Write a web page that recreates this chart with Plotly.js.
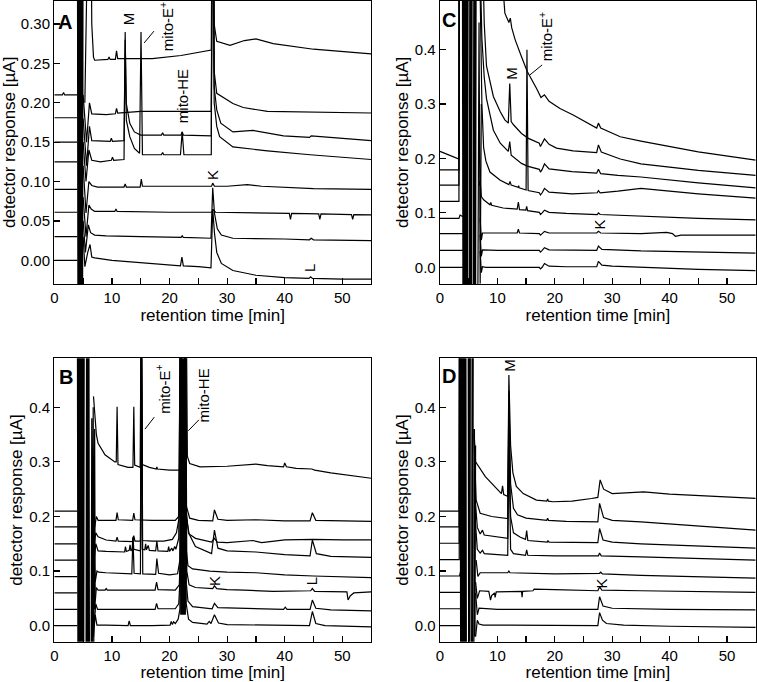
<!DOCTYPE html>
<html><head><meta charset="utf-8">
<script src="https://cdn.plot.ly/plotly-3.0.1.min.js"></script>
<style>html,body{margin:0;padding:0;background:#fff}#plot{width:757px;height:682px}</style>
</head><body><div id="plot"></div>
<script>
// ---------- Panel A (time [min], response [µA]) ----------
const A_front = [[4.0,0.5],[4.1,-0.1],[4.2,0.5],[4.3,-0.1],[4.4,0.5],[4.5,-0.1],[4.6,0.5],[4.7,-0.1],[4.8,0.5],[4.9,-0.1],[5.0,0.5]];
const A1 = [[0,0.0],[2,0.0],[4.0,0.0],null,[5.0,0.03],[5.3,-0.008],[5.8,0.01],[6.2,0.02],[6.5,0.004],[7,0.003],[10,0.0],[15,-0.003],[20,-0.006],[21.9,-0.007],[22.15,0.004],[22.4,-0.007],[25,-0.008],[27.2,-0.0095],[27.5,0.065],[27.8,0.035],[28.2,0.01],[29,-0.004],[31,-0.013],[35,-0.019],[40,-0.022],[44.2,-0.023],[44.5,-0.021],[44.8,-0.023],[50,-0.024],[55,-0.024]];
const A2 = [[0,0.03],[4.0,0.03],null,[5.0,0.05],[5.4,0.01],[5.9,0.045],[6.3,0.035],[7,0.032],[9,0.031],[15,0.030],[22,0.029],[22.2,0.031],[22.4,0.029],[27.2,0.028],[27.5,0.092],[27.8,0.06],[28.3,0.04],[29,0.032],[31,0.028],[40,0.027],[44.3,0.026],[44.6,0.028],[45,0.026],[55,0.025]];
const A3 = [[0,0.061],[4.0,0.061],null,[5.0,0.08],[5.5,0.03],[6.0,0.07],[6.4,0.065],[7,0.062],[10.5,0.062],[10.7,0.065],[10.9,0.062],[20,0.061],[27.3,0.061],[27.6,0.064],[28,0.061],[40.8,0.0595],[41,0.052],[41.2,0.0595],[45.9,0.059],[46.1,0.052],[46.3,0.059],[51.6,0.058],[51.8,0.052],[52,0.058],[55,0.0576]];
const A4 = [[0,0.09],[4.0,0.09],null,[5.0,0.12],[5.5,0.06],[6.0,0.10],[6.5,0.095],[7.5,0.093],[12.1,0.093],[12.3,0.097],[12.5,0.093],[14.9,0.093],[15.1,0.103],[15.3,0.094],[20,0.094],[27.3,0.094],[27.5,0.098],[27.8,0.094],[30,0.094],[33.5,0.096],[36,0.094],[45,0.091],[55,0.090]];
const A5 = [[0,0.125],[4.0,0.125],null,[5.0,0.15],[5.5,0.10],[6.0,0.14],[6.5,0.127],[8,0.125],[9.9,0.127],[10.1,0.131],[10.3,0.127],[12.1,0.128],[12.3,0.29],[12.5,0.178],[13.1,0.157],[13.9,0.142],[14.8,0.136],[15.05,0.29],[15.3,0.134],[18.6,0.134],[18.8,0.137],[19,0.134],[21.9,0.134],[22.2,0.163],[22.5,0.134],[27.25,0.134],[27.5,0.6],[27.75,0.2],[28.2,0.17],[28.7,0.157],[31,0.144],[37,0.139],[44.4,0.134],[55,0.128]];
const A6 = [[0,0.15],[4.0,0.15],null,[5.0,0.18],[5.6,0.12],[6.1,0.17],[6.5,0.152],[9.7,0.151],[9.9,0.155],[10.1,0.151],[12.1,0.152],[12.3,0.28],[12.5,0.199],[13.1,0.174],[13.9,0.163],[15,0.159],[18.6,0.159],[18.8,0.162],[19,0.159],[22.0,0.159],[22.2,0.163],[22.4,0.159],[27.25,0.158],[27.5,0.6],[27.75,0.22],[28.2,0.191],[28.9,0.174],[31,0.163],[34.5,0.165],[39.8,0.158],[44.3,0.156],[44.6,0.158],[55,0.152]];
const A7 = [[0,0.181],[4.0,0.181],null,[5.0,0.21],[5.6,0.15],[6.1,0.2],[6.5,0.186],[9,0.185],[10.6,0.186],[10.8,0.193],[11,0.187],[15,0.189],[27.25,0.189],[27.5,0.6],[27.75,0.24],[28.2,0.212],[31,0.199],[32.8,0.194],[37,0.189],[55,0.187]];
const A8 = [[0,0.21],[1.4,0.21],[1.6,0.213],[1.8,0.21],[4.0,0.21],null,[5.3,0.2],[6.2,0.6],[6.5,0.3],[6.8,0.258],[7,0.254],[9.3,0.255],[9.5,0.258],[9.7,0.255],[10.6,0.255],[10.8,0.266],[11,0.256],[13,0.256],[17,0.256],[22,0.26],[27.25,0.267],[27.5,0.6],[27.75,0.3],[28.2,0.278],[30.5,0.273],[33,0.279],[35,0.281],[38,0.275],[45,0.268],[55,0.262]];

// ---------- Panel C ----------
const C_front = [[3.9,0.6],[4.0,-0.1],[4.1,0.6],[4.2,-0.1],[4.3,0.6],[4.4,-0.1],[4.5,0.6],[4.6,-0.1],[4.7,0.6],[4.8,-0.1],[4.9,0.6],null,[5.1,-0.1],[5.2,0.6],[5.3,-0.1],[5.4,0.6],[5.5,-0.1],[5.6,0.6],null,[5.8,-0.1],[5.9,0.6],[6.0,-0.1],[6.1,0.6],[6.2,-0.1],[6.3,0.6],null,[6.6,-0.05],[6.8,0.45],[7.0,-0.03],[7.2,0.3]];
const C1 = [[0,0.0],[4.0,0.0],null,[7.0,0.03],[7.2,-0.01],[7.4,0.001],[8,0.0],[12,0.0],[17.3,0.0],[17.5,-0.003],[17.8,0.0],[18.2,0.007],[19,0.002],[22,0.001],[27.3,0.001],[27.6,0.011],[28.2,0.004],[30,0.002],[35,0.0],[45,-0.004],[55,-0.006]];
const C2 = [[0,0.031],[4.0,0.031],null,[7.0,0.06],[7.2,0.02],[7.4,0.032],[10,0.031],[17.3,0.031],[17.5,0.028],[17.8,0.031],[18.2,0.036],[19,0.032],[27.3,0.031],[27.6,0.039],[28.2,0.033],[35,0.030],[45,0.028],[55,0.026]];
const C3 = [[0,0.062],[4.0,0.062],null,[7.0,0.09],[7.2,0.05],[7.4,0.063],[10,0.063],[13.45,0.063],[13.65,0.07],[13.85,0.063],[17.3,0.062],[17.5,0.059],[17.8,0.062],[18.2,0.066],[19,0.063],[27.3,0.063],[27.6,0.066],[28,0.063],[35,0.062],[39.5,0.064],[40.5,0.062],[41,0.057],[42,0.059],[55,0.059]];
const C4 = [[0,0.09],[3.3,0.09],[3.5,0.096],[3.8,0.094],[4.0,0.093],null,[6.8,0.15],[7.0,0.16],[7.2,0.13],[7.6,0.124],[8.7,0.115],[8.85,0.119],[9.0,0.114],[11,0.109],[13.45,0.107],[13.65,0.12],[13.85,0.106],[14.95,0.105],[15.1,0.112],[15.25,0.104],[17.3,0.101],[17.5,0.097],[17.8,0.1],[18.2,0.105],[19,0.101],[22,0.099],[27.4,0.097],[27.6,0.1],[27.9,0.097],[35,0.094],[45,0.09],[55,0.087]];
const C5 = [[0,0.121],[3.3,0.121],[3.35,0.6],null,[7.0,0.5],[7.3,0.3],[7.6,0.22],[8,0.195],[8.7,0.175],[10.5,0.16],[12.0,0.152],[12.2,0.158],[12.4,0.151],[13.6,0.147],[13.7,0.15],[13.8,0.146],[15.0,0.142],[15.15,0.40],[15.35,0.141],[17.3,0.137],[17.5,0.133],[17.8,0.137],[18.2,0.145],[19,0.138],[23,0.135],[27.4,0.137],[27.6,0.141],[27.9,0.137],[31,0.14],[35,0.145],[40,0.14],[45,0.135],[55,0.127]];
const C6 = [[0,0.151],[3.3,0.151],[3.35,0.6],null,[6.9,0.6],[7.3,0.42],[7.7,0.35],[8.1,0.31],[9.3,0.252],[10.5,0.228],[11.9,0.213],[12.15,0.231],[12.4,0.206],[14.2,0.191],[15.2,0.186],[17.3,0.18],[17.5,0.175],[17.8,0.18],[18.2,0.19],[19,0.181],[23,0.176],[27.3,0.173],[27.6,0.18],[28,0.172],[31,0.169],[35,0.166],[45,0.155],[55,0.146]];
const C7 = [[0,0.179],[3.3,0.179],[3.35,0.6],null,[7.4,0.6],[7.7,0.45],[8.1,0.37],[9.3,0.314],[10.5,0.286],[11.3,0.271],[11.9,0.265],[12.15,0.338],[12.4,0.268],[12.8,0.262],[14.2,0.246],[15.4,0.237],[17.3,0.228],[17.5,0.222],[17.8,0.228],[18.2,0.236],[19,0.226],[20.3,0.219],[23.2,0.214],[27.3,0.211],[27.6,0.225],[28.1,0.212],[31.4,0.199],[35,0.19],[45,0.178],[55,0.169]];
const C8 = [[0,0.213],[1.5,0.207],[3.3,0.199],[3.35,0.6],null,[10.4,0.6],[11.3,0.467],[12.0,0.45],[12.25,0.458],[12.5,0.44],[13.1,0.418],[14.2,0.387],[15.2,0.36],[16.8,0.329],[17.4,0.318],[17.6,0.312],[18.2,0.317],[19,0.305],[20.9,0.292],[23.2,0.28],[27.3,0.256],[27.6,0.265],[28.0,0.256],[31.4,0.24],[35,0.232],[40,0.222],[45,0.212],[55,0.197]];

// ---------- Panel B ----------
const B_front = [[4.0,0.6],[4.1,-0.1],[4.2,0.6],[4.3,-0.1],[4.4,0.6],[4.5,-0.1],[4.6,0.6],[4.7,-0.1],[4.8,0.6],[4.9,-0.1],[5.0,0.6],[5.1,-0.1],[5.2,0.6],null,[5.5,-0.1],[5.6,0.6],[5.7,-0.1],[5.8,0.6],[5.9,-0.1],[6.0,0.6],[6.1,-0.1],null,[6.4,-0.05],[6.5,0.38],[6.6,-0.05],[6.75,0.4],[6.85,-0.05],[7.0,0.36],[7.1,0.05]];
const B_he = [[21.85,0.6],[21.95,0.02],[22.05,0.6],[22.15,0.02],[22.25,0.6],[22.35,0.02],[22.45,0.6],[22.55,0.02],[22.65,0.6],[22.75,0.02],[22.85,0.6]];
const B1 = [[0,0.0],[4.0,0.0],null,[6.5,0.05],[6.8,-0.02],[7.1,0.02],[7.4,0.001],[9,0.001],[12.8,0.0],[13.0,0.009],[13.2,0.0],[17,0.0],[20.1,0.001],[20.3,0.008],[20.5,0.002],[20.7,0.007],[21.0,0.004],[21.5,0.012],[21.8,0.03],[22.0,0.6],[22.7,0.6],[22.9,0.04],[23.3,0.012],[24,0.006],[26.5,0.003],[26.9,0.008],[27.2,0.004],[27.8,0.02],[28.5,0.005],[30,0.002],[35,0.001],[40,0.0],[44.3,0.0],[44.8,0.026],[45.4,0.004],[47,0.0],[55,-0.002]];
const B2 = [[0,0.03],[4.0,0.03],null,[6.6,0.08],[6.9,0.0],[7.2,0.04],[7.5,0.03],[10,0.03],[17.5,0.03],[17.75,0.041],[18.0,0.031],[21,0.031],[21.6,0.04],[21.9,0.1],[22.1,0.6],[22.75,0.6],[22.9,0.08],[23.2,0.045],[24,0.035],[27.4,0.031],[27.8,0.041],[28.4,0.033],[35,0.031],[39.8,0.03],[40.1,0.034],[40.4,0.03],[44.4,0.03],[44.8,0.047],[45.4,0.032],[48,0.029],[55,0.027]];
const B3 = [[0,0.06],[4.0,0.06],null,[6.7,0.1],[7.0,0.03],[7.3,0.07],[7.6,0.065],[8.8,0.065],[9.0,0.068],[9.2,0.065],[13,0.065],[17.5,0.065],[17.75,0.08],[18.0,0.066],[21,0.065],[21.7,0.075],[21.95,0.15],[22.1,0.6],[22.8,0.6],[23.0,0.1],[23.4,0.075],[24.5,0.07],[27.5,0.068],[27.8,0.073],[28.2,0.068],[30,0.066],[33,0.065],[38,0.063],[44.5,0.064],[44.8,0.068],[45.2,0.063],[50.8,0.062],[51.0,0.047],[51.4,0.055],[52,0.06],[55,0.062]];
const B4 = [[0,0.09],[4.0,0.09],null,[6.8,0.15],[7.1,0.08],[7.4,0.1],[7.7,0.098],[9,0.097],[12,0.096],[13.45,0.095],[13.65,0.163],[13.85,0.096],[14.95,0.095],[15.15,0.6],[15.35,0.095],[17.6,0.094],[17.8,0.123],[18.1,0.096],[20,0.093],[21.4,0.095],[21.8,0.12],[22.0,0.6],[22.6,0.6],[22.8,0.15],[23.2,0.11],[24,0.104],[27,0.1],[30,0.098],[35,0.097],[40,0.093],[45,0.091],[50,0.089],[55,0.088]];
const B5 = [[0,0.12],[4.0,0.12],null,[6.6,0.2],[6.9,0.12],[7.2,0.15],[7.6,0.137],[9,0.136],[11,0.135],[12.2,0.135],[12.35,0.145],[12.5,0.136],[13.0,0.138],[13.15,0.148],[13.3,0.137],[13.5,0.14],[13.65,0.16],[13.8,0.14],[14.95,0.137],[15.1,0.6],[15.25,0.14],[15.7,0.139],[15.85,0.15],[16.0,0.139],[16.3,0.147],[16.5,0.138],[17.6,0.137],[17.8,0.155],[18.0,0.137],[19.7,0.136],[19.85,0.145],[20.0,0.136],[20.4,0.142],[20.6,0.137],[20.9,0.145],[21.1,0.14],[21.6,0.16],[21.9,0.6],[22.6,0.6],[22.8,0.22],[23.3,0.17],[24.5,0.145],[27.3,0.132],[27.8,0.175],[28.4,0.142],[30,0.137],[35,0.135],[40,0.13],[44.4,0.128],[44.8,0.157],[45.5,0.132],[48,0.127],[55,0.125]];
const B6 = [[0,0.15],[4.0,0.15],null,[6.6,0.22],[6.9,0.15],[7.2,0.17],[7.6,0.163],[9,0.157],[10.7,0.155],[10.9,0.162],[11.1,0.155],[13.6,0.154],[13.8,0.165],[14.0,0.155],[14.95,0.155],[15.12,0.6],[15.3,0.156],[17,0.155],[19,0.155],[20.5,0.158],[21.2,0.17],[21.7,0.2],[21.9,0.6],[22.7,0.6],[22.9,0.2],[23.4,0.168],[24.5,0.16],[27.3,0.153],[27.8,0.16],[28.3,0.153],[30,0.152],[34.5,0.156],[36,0.152],[40,0.157],[45,0.158],[50,0.157],[55,0.157]];
const B7 = [[0,0.181],[4.0,0.181],null,[6.7,0.28],[7.0,0.18],[7.3,0.2],[7.6,0.193],[10.7,0.193],[10.9,0.207],[11.1,0.194],[13.6,0.193],[13.8,0.206],[14.0,0.194],[17,0.193],[21,0.193],[21.6,0.2],[21.9,0.6],[22.7,0.6],[22.9,0.22],[23.5,0.197],[25,0.193],[27.5,0.192],[27.8,0.212],[28.4,0.195],[30,0.193],[35,0.194],[40,0.192],[44.4,0.192],[44.8,0.207],[45.4,0.193],[50,0.192],[55,0.191]];
const B8 = [[0,0.21],[4.0,0.21],null,[6.8,0.42],[7.0,0.395],[7.3,0.35],[7.6,0.334],[8.8,0.313],[10.5,0.30],[10.75,0.3],[10.9,0.401],[11.05,0.295],[12.8,0.29],[13.65,0.29],[13.8,0.401],[13.95,0.294],[14.9,0.29],[15.08,0.6],[15.3,0.295],[16.5,0.29],[17.7,0.287],[17.8,0.291],[17.9,0.287],[20,0.285],[21.8,0.285],[22.0,0.6],[22.9,0.6],[23.1,0.31],[23.5,0.297],[25.3,0.291],[30,0.292],[33,0.295],[35,0.296],[37,0.293],[39.8,0.291],[40.0,0.298],[40.3,0.291],[42,0.288],[44.7,0.287],[45.2,0.285],[48,0.28],[55,0.27]];

// ---------- Panel D ----------
const D_front = [[3.5,0.6],[3.6,-0.1],[3.7,0.6],[3.8,-0.1],[3.9,0.6],[4.0,-0.1],[4.1,0.6],[4.2,-0.1],[4.3,0.6],[4.4,-0.1],[4.5,0.6],[4.6,-0.1],null,[4.9,0.6],[5.0,-0.1],[5.1,0.6],[5.2,-0.1],[5.3,0.6],null,[5.5,-0.1],[5.6,0.6],[5.7,-0.1],[5.8,0.6],null,[5.9,-0.05],[6.0,0.36],[6.1,-0.02],[6.2,0.33]];
const D1 = [[0,0.0],[3.6,0.0],null,[6.2,-0.02],[6.5,0.01],[6.8,0.003],[7.5,0.001],[10,0.001],[20,0.001],[27.5,0.0],[27.8,0.024],[28.3,0.01],[29,0.004],[32,0.001],[40,-0.001],[55,-0.003]];
const D2 = [[0,0.031],[3.6,0.031],null,[6.2,0.06],[6.5,0.02],[6.8,0.032],[10,0.03],[20,0.03],[27.5,0.03],[27.8,0.053],[28.4,0.036],[30,0.032],[40,0.03],[55,0.029]];
const D3 = [[0,0.061],[3.6,0.061],null,[6.2,0.08],[6.5,0.05],[6.9,0.064],[8.5,0.063],[8.8,0.047],[9.0,0.055],[9.5,0.06],[9.6,0.052],[9.8,0.062],[14.2,0.063],[14.3,0.052],[14.4,0.063],[16.2,0.064],[16.4,0.067],[20,0.066],[27.5,0.064],[27.8,0.071],[28.2,0.065],[35,0.064],[45,0.062],[55,0.061]];
const D4 = [[0,0.091],[3.4,0.091],[3.6,0.10],[3.9,0.099],null,[6.3,0.12],[6.6,0.09],[7.0,0.097],[10,0.097],[11.8,0.097],[12.0,0.1],[12.2,0.097],[20,0.095],[27.8,0.096],[28,0.098],[28.3,0.095],[35,0.092],[45,0.089],[55,0.087]];
const D5 = [[0,0.121],[3.35,0.121],[3.4,0.6],null,[6.1,0.2],[6.5,0.14],[7.0,0.133],[7.4,0.138],[7.7,0.132],[10,0.13],[11.8,0.129],[12.0,0.34],[12.3,0.14],[12.8,0.132],[14.9,0.129],[15.1,0.139],[15.3,0.129],[20,0.128],[27.6,0.128],[27.8,0.133],[28.1,0.128],[35,0.126],[45,0.123],[55,0.12]];
const D6 = [[0,0.151],[3.35,0.151],[3.4,0.6],null,[6.0,0.25],[6.5,0.18],[7.0,0.168],[7.4,0.175],[7.7,0.166],[10,0.162],[11.8,0.16],[12.0,0.39],[12.3,0.2],[12.8,0.17],[14,0.162],[14.9,0.158],[15.1,0.174],[15.3,0.156],[18.7,0.153],[18.8,0.156],[19,0.153],[27.5,0.152],[27.8,0.178],[28.4,0.157],[30,0.153],[35,0.15],[45,0.146],[55,0.142]];
const D7 = [[0,0.181],[3.35,0.181],[3.4,0.6],null,[5.9,0.35],[6.3,0.23],[7,0.206],[9,0.2],[11.8,0.196],[12.0,0.43],[12.3,0.26],[12.8,0.215],[13.5,0.203],[15,0.197],[18.6,0.193],[18.75,0.197],[18.9,0.193],[22,0.191],[27.5,0.19],[27.8,0.224],[28.5,0.198],[30,0.193],[35,0.19],[45,0.182],[55,0.175]];
const D8 = [[0,0.21],[3.35,0.21],[3.4,0.6],null,[5.9,0.36],[6.2,0.30],[7.9,0.273],[9.5,0.255],[10.7,0.242],[10.9,0.256],[11.1,0.24],[11.8,0.237],[12.0,0.459],[12.3,0.33],[12.7,0.28],[13.3,0.255],[14.5,0.242],[16.8,0.230],[18.6,0.228],[18.75,0.232],[18.9,0.228],[19.7,0.227],[23,0.228],[26.4,0.233],[27.5,0.235],[27.9,0.267],[28.5,0.25],[30,0.242],[33,0.243],[35.5,0.245],[40,0.241],[45,0.238],[50,0.236],[55,0.233]];

// ---------- labels ----------
const xTitle = 'retention time [min]';
const yTitle = 'detector response [µA]';
const panelLetters = [['A','x','y',1.77,0.303],['C','x2','y2',1.65,0.454],['B','x3','y3',2.03,0.455],['D','x4','y4',1.57,0.457]];
const peakLabels = [
  ['M','x','y',12.8,0.306],['mito-E<sup>+</sup>','x','y',19.4,0.296],['mito-HE','x','y',22.25,0.209],['K','x','y',27.5,0.108],['L','x','y',44.2,-0.010],
  ['M','x2','y2',12.4,0.356],['mito-E<sup>+</sup>','x2','y2',18.4,0.424],['K','x2','y2',27.8,0.078],
  ['mito-E<sup>+</sup>','x3','y3',18.8,0.433],['mito-HE','x3','y3',25.9,0.4225],['K','x3','y3',27.9,0.082],['L','x3','y3',44.8,0.082],
  ['M','x4','y4',12.1,0.477],['K','x4','y4',28.1,0.078]
];
const leaders = [['x','y',15.6,0.276,17.3,0.291],['x2','y2',15.6,0.353,17.8,0.372],['x3','y3',15.74,0.360,17.36,0.382],['x3','y3',23.26,0.357,25.1,0.377]];

const F = 'Liberation Sans, Arial, Helvetica, sans-serif';
const panels = [
  {xa:'x', ya:'y', series:[A_front,A1,A2,A3,A4,A5,A6,A7,A8]},
  {xa:'x2', ya:'y2', series:[C_front,C1,C2,C3,C4,C5,C6,C7,C8]},
  {xa:'x3', ya:'y3', series:[B_front,B_he,B1,B2,B3,B4,B5,B6,B7,B8]},
  {xa:'x4', ya:'y4', series:[D_front,D1,D2,D3,D4,D5,D6,D7,D8]}
];
const traces = [];
panels.forEach(p => p.series.forEach(s => {
  traces.push({type:'scatter', mode:'lines', xaxis:p.xa, yaxis:p.ya,
    x: s.map(q => q ? q[0] : null), y: s.map(q => q ? q[1] : null),
    line:{color:'#000', width:1.2}, showlegend:false, hoverinfo:'skip'});
}));

function xAxis(domain, anchor){
  return {domain, anchor, range:[0,55], tick0:0, dtick:10, ticks:'inside', ticklen:6, tickwidth:1.2, tickcolor:'#000',
    minor:{dtick:5, ticks:'inside', ticklen:6, tickwidth:1.2, tickcolor:'#000'},
    showline:true, linecolor:'#000', linewidth:1.3, mirror:true, showgrid:false, zeroline:false,
    tickfont:{family:F, size:15, color:'#000'},
    title:{text:xTitle, font:{family:F, size:17, color:'#000'}, standoff:2}, automargin:false};
}
function yAxis(domain, anchor, range, dtick, fmt){
  return {domain, anchor, range, tick0:0, dtick, tickformat:fmt, ticks:'inside', ticklen:6, tickwidth:1.2, tickcolor:'#000',
    showline:true, linecolor:'#000', linewidth:1.3, mirror:true, showgrid:false, zeroline:false,
    tickfont:{family:F, size:15, color:'#000'},
    title:{text:yTitle, font:{family:F, size:17, color:'#000'}, standoff:2}, automargin:false};
}
const xL = [0.07177, 0.49023], xR = [0.58124, 0.99828];
const yT = [0.58358, 0.99897], yB = [0.05909, 0.47463];

const annotations = [];
panelLetters.forEach(a => annotations.push({text:'<b>'+a[0]+'</b>', xref:a[1], yref:a[2], x:a[3], y:a[4], showarrow:false,
  xanchor:'center', yanchor:'middle', font:{family:F, size:20, color:'#000'}}));
peakLabels.forEach(a => annotations.push({text:a[0], xref:a[1], yref:a[2], x:a[3], y:a[4], showarrow:false, textangle:-90,
  xanchor:'center', yanchor:'middle', font:{family:F, size:15, color:'#000'}}));
const shapes = leaders.map(l => ({type:'line', xref:l[0], yref:l[1], x0:l[2], y0:l[3], x1:l[4], y1:l[5], line:{color:'#000', width:1}}));

const layout = {
  width:757, height:682, margin:{l:0,r:0,t:0,b:0}, paper_bgcolor:'#fff', plot_bgcolor:'#fff', showlegend:false,
  xaxis: xAxis(xL,'y'), yaxis: yAxis(yT,'x',[-0.0301,0.3296],0.05,'.2f'),
  xaxis2: xAxis(xR,'y2'), yaxis2: yAxis(yT,'x2',[-0.0307,0.490],0.1,'.1f'),
  xaxis3: xAxis(xL,'y3'), yaxis3: yAxis(yB,'x3',[-0.0293,0.4897],0.1,'.1f'),
  xaxis4: xAxis(xR,'y4'), yaxis4: yAxis(yB,'x4',[-0.0293,0.4897],0.1,'.1f'),
  annotations, shapes
};
Plotly.newPlot('plot', traces, layout, {staticPlot:true, displayModeBar:false});
</script></body></html>
